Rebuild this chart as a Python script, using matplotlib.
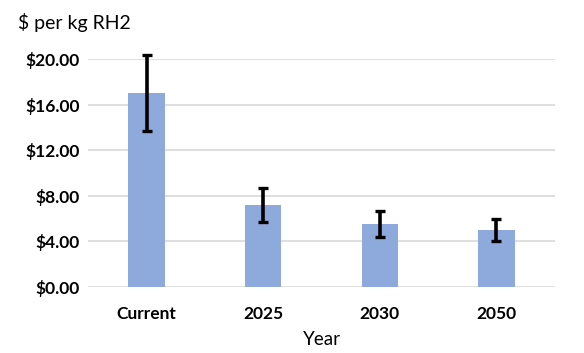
import matplotlib
matplotlib.use("Agg")
import matplotlib.pyplot as plt

categories = ["Current", "2025", "2030", "2050"]
costs = [17.0, 7.2, 5.5, 5.0]
err_low = [3.3, 1.5, 1.1, 1.0]
err_high = [3.35, 1.5, 1.2, 1.0]
yticks = [0, 4, 8, 12, 16, 20]

plt.rcParams["font.family"] = ["Lato", "DejaVu Sans"]

fig = plt.figure(figsize=(5.84, 3.53), dpi=100)
ax = fig.add_axes([0.151, 0.187, 0.799, 0.646])

x = range(len(categories))
bars = ax.bar(x, costs, width=0.31, color="#8EA9DB", zorder=2)
ax.errorbar(x, costs, yerr=[err_low, err_high], fmt="none", ecolor="black",
            elinewidth=2.6, capsize=3.5, capthick=2.4, zorder=3, clip_on=False)

ax.set_xlim(-0.5, len(categories) - 0.5)
ax.set_ylim(0, 20)
ax.set_yticks(yticks)
ax.set_yticklabels([f"${v:.2f}" for v in yticks], fontsize=12.5, fontweight="bold")
ax.set_xticks(list(x))
ax.set_xticklabels(categories, fontsize=12.5, fontweight="bold")
ax.tick_params(length=0, pad=6)
ax.tick_params(axis="x", pad=14)

ax.grid(axis="y", color="#D9D9D9", linewidth=1.2, zorder=0)
for s in ax.spines.values():
    s.set_visible(False)

ax.set_xlabel("Year", fontsize=13.5, labelpad=6)
fig.text(0.031, 0.935, "$ per kg RH2", fontsize=14, ha="left", va="center")

fig.savefig("out.png", dpi=100)
